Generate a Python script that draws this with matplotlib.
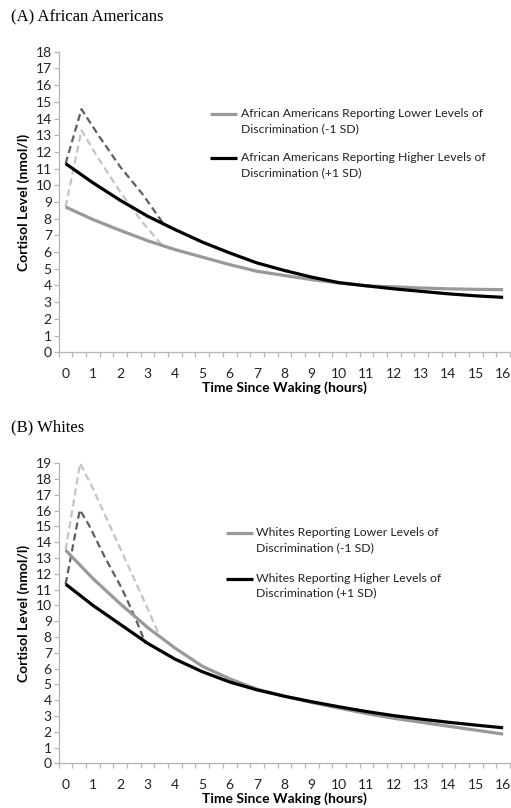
import numpy as np
import matplotlib.pyplot as plt

# -----------------------------
# data
# -----------------------------
hours = list(range(17))

# (A) African Americans
aa_low = [8.7, 7.95, 7.3, 6.68, 6.15, 5.7, 5.25, 4.85, 4.6, 4.35, 4.15, 3.98, 3.92, 3.85, 3.8, 3.77, 3.75]
aa_high = [11.3, 10.15, 9.1, 8.15, 7.35, 6.6, 5.95, 5.35, 4.9, 4.5, 4.17, 3.98, 3.8, 3.65, 3.5, 3.38, 3.29]
aa_low_car_t = [0, 0.58, 1.2, 2.0, 2.8, 3.56]
aa_low_car = [8.7, 13.3, 11.6, 9.6, 7.8, 6.35]
aa_high_car_t = [0, 0.58, 1.2, 2.0, 2.8, 3.6]
aa_high_car = [11.3, 14.56, 13.0, 11.1, 9.5, 7.65]

# (B) Whites
wh_low = [13.5, 11.7, 10.1, 8.6, 7.3, 6.15, 5.35, 4.7, 4.25, 3.85, 3.5, 3.15, 2.85, 2.6, 2.35, 2.1, 1.85]
wh_high = [11.35, 10.0, 8.8, 7.6, 6.6, 5.8, 5.15, 4.65, 4.25, 3.9, 3.58, 3.28, 3.02, 2.8, 2.6, 2.42, 2.25]
wh_low_car_t = [0, 0.53, 1.0, 2.0, 3.0, 3.45]
wh_low_car = [13.5, 19.0, 17.4, 13.6, 9.8, 8.0]
wh_high_car_t = [0, 0.52, 0.85, 1.45, 2.05, 2.55, 2.92]
wh_high_car = [11.35, 16.05, 15.1, 13.0, 11.1, 9.2, 7.6]

xticks = list(range(17))

GRAY = '#999999'
LIGHT = '#c4c4c4'
DARK = '#5e5e5e'
AXCOL = '#b5b5b5'
SANS = ['Lato', 'DejaVu Sans']


def panel(ax, ymax, low, high, low_t, low_car, high_t, high_car, labels, leg_x, leg_y):
    ax.plot(low_t, low_car, color=LIGHT, lw=1.6, ls=(0, (3.2, 1.8)), zorder=2)
    ax.plot(high_t, high_car, color=DARK, lw=1.6, ls=(0, (3.2, 1.8)), zorder=2)
    ax.plot(hours, low, color=GRAY, lw=2.3, zorder=3, solid_capstyle='butt')
    ax.plot(hours, high, color='black', lw=2.3, zorder=4, solid_capstyle='butt')

    ax.set_xlim(-0.25, 16.25)
    ax.set_ylim(0, ymax)
    ax.set_yticks(range(ymax + 1))
    ax.set_xticks(xticks)
    ax.set_xticks(np.arange(-0.25, 16.3, 0.5), minor=True)
    ax.tick_params(axis='x', which='major', length=0, pad=11.5, labelsize=10, labelcolor='#222222')
    ax.tick_params(axis='x', which='minor', length=3.5, color=AXCOL, width=0.9)
    ax.tick_params(axis='y', length=3.5, color=AXCOL, width=0.9, pad=1.5, labelsize=10, labelcolor='#222222')
    for lab in ax.get_xticklabels() + ax.get_yticklabels():
        lab.set_family(SANS)
    for s in ['top', 'right']:
        ax.spines[s].set_visible(False)
    for s in ['left', 'bottom']:
        ax.spines[s].set_color(AXCOL)
        ax.spines[s].set_linewidth(0.9)

    ax.set_xlabel('Time Since Waking (hours)', fontweight='bold', fontsize=10, family=SANS, labelpad=1)
    ax.set_ylabel('Cortisol Level (nmol/l)', fontweight='bold', fontsize=10, family=SANS, labelpad=4)

    # legend drawn Excel-style (handle level with first text line)
    for i, (col, txt) in enumerate(zip([GRAY, 'black'], labels)):
        y = leg_y[i]
        ax.plot([leg_x, leg_x + 0.06], [y, y], color=col, lw=2.3, transform=ax.transAxes,
                clip_on=False, solid_capstyle='butt')
        ax.text(leg_x + 0.068, y + 0.019, txt, transform=ax.transAxes, va='top', ha='left',
                fontsize=8.8, family=SANS, color='#222222', linespacing=1.4)


fig = plt.figure(figsize=(5.11, 8.08), dpi=100)
ax1 = fig.add_axes([0.115, 0.564, 0.883, 0.372])
ax2 = fig.add_axes([0.115, 0.0553, 0.883, 0.3713])

panel(ax1, 18, aa_low, aa_high, aa_low_car_t, aa_low_car, aa_high_car_t, aa_high_car,
      ['African Americans Reporting Lower Levels of\nDiscrimination (-1 SD)',
       'African Americans Reporting Higher Levels of\nDiscrimination (+1 SD)'],
      0.335, [0.793, 0.646])
panel(ax2, 19, wh_low, wh_high, wh_low_car_t, wh_low_car, wh_high_car_t, wh_high_car,
      ['Whites Reporting Lower Levels of\nDiscrimination (-1 SD)',
       'Whites Reporting Higher Levels of\nDiscrimination (+1 SD)'],
      0.37, [0.768, 0.615])

fig.text(0.022, 0.979, '(A) African Americans', family='Liberation Serif', fontsize=12,
         va='center', ha='left')
fig.text(0.022, 0.471, '(B) Whites', family='Liberation Serif', fontsize=12,
         va='center', ha='left')

fig.savefig('out.png', dpi=100)
